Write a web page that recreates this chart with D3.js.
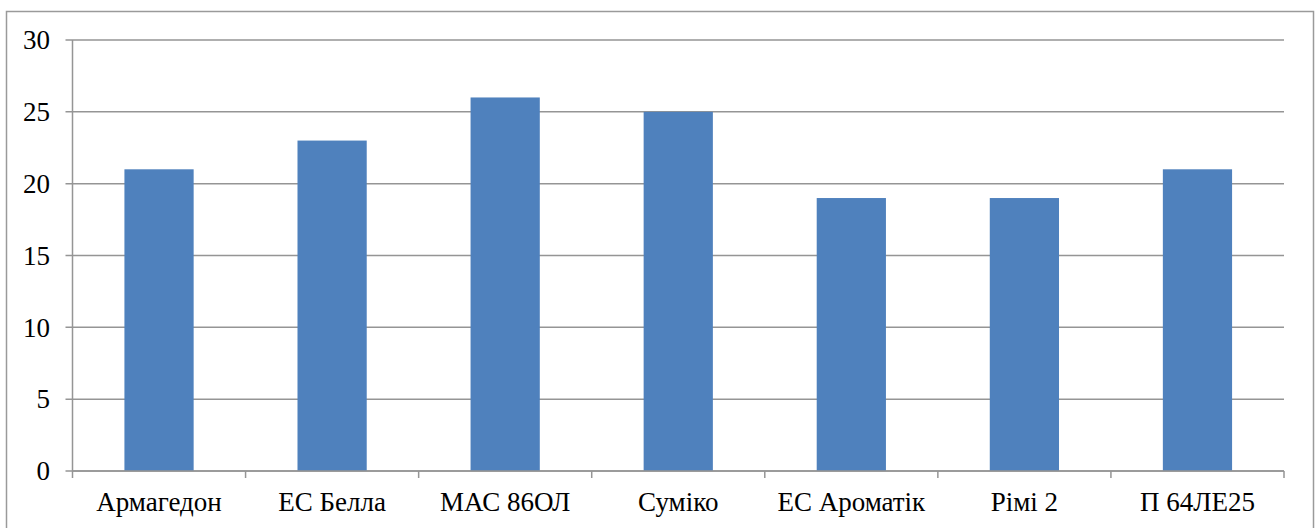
<!DOCTYPE html>
<html>
<head>
<meta charset="utf-8">
<script src="https://cdn.jsdelivr.net/npm/d3@7"></script>
<style>
  html, body { margin: 0; padding: 0; background: #fff; }
  svg { display: block; }
</style>
</head>
<body>
<svg id="chart" width="1316" height="528"></svg>
<script>
const categories = ["Армагедон", "ЕС Белла", "МАС 86ОЛ", "Суміко", "ЕС Ароматік", "Рімі 2", "П 64ЛЕ25"];
const values = [21, 23, 26, 25, 19, 19, 21];
const yTicks = [0, 5, 10, 15, 20, 25, 30];

const svg = d3.select("#chart");
const W = 1316, H = 528;
const margin = { left: 72.5, right: W - 1284, top: 40, bottom: H - 471 };
const fontFamily = "Liberation Serif, Times New Roman, serif";
const fontSize = 27;
const gridColor = "#959595";

// outer border
svg.append("rect")
  .attr("x", 6.5).attr("y", 11.5)
  .attr("width", 1307).attr("height", 540)
  .attr("fill", "none")
  .attr("stroke", "#9a9a9a")
  .attr("stroke-width", 1.5);

const x = d3.scaleBand()
  .domain(categories)
  .range([margin.left, W - margin.right])
  .paddingInner(0.6)
  .paddingOuter(0.3);

const xOuter = d3.scaleBand()
  .domain(categories)
  .range([margin.left, W - margin.right]);

const y = d3.scaleLinear()
  .domain([0, 30])
  .range([H - margin.bottom, margin.top]);

// gridlines
svg.append("g")
  .selectAll("line")
  .data(yTicks)
  .join("line")
  .attr("x1", margin.left - 7)
  .attr("x2", W - margin.right)
  .attr("y1", d => y(d))
  .attr("y2", d => y(d))
  .attr("stroke", gridColor)
  .attr("stroke-width", 1.5);

// y axis line
svg.append("line")
  .attr("x1", margin.left).attr("x2", margin.left)
  .attr("y1", y(30)).attr("y2", y(0))
  .attr("stroke", gridColor).attr("stroke-width", 1.5);

// y labels
svg.append("g")
  .selectAll("text")
  .data(yTicks)
  .join("text")
  .attr("x", 50)
  .attr("y", d => y(d))
  .attr("dy", "0.34em")
  .attr("text-anchor", "end")
  .attr("font-family", fontFamily)
  .attr("font-size", fontSize)
  .attr("fill", "#000")
  .text(d => d);

// bars
svg.append("g")
  .selectAll("rect")
  .data(categories)
  .join("rect")
  .attr("x", d => x(d))
  .attr("width", x.bandwidth())
  .attr("y", (d, i) => y(values[i]))
  .attr("height", (d, i) => y(0) - y(values[i]))
  .attr("fill", "#4F81BD");

// x axis
const xAxisY = y(0);
svg.append("line")
  .attr("x1", margin.left).attr("x2", W - margin.right)
  .attr("y1", xAxisY).attr("y2", xAxisY)
  .attr("stroke", gridColor).attr("stroke-width", 1.5);

const tickXs = categories.map(c => xOuter(c)).concat([W - margin.right]);
svg.append("g")
  .selectAll("line")
  .data(tickXs)
  .join("line")
  .attr("x1", d => d).attr("x2", d => d)
  .attr("y1", xAxisY).attr("y2", xAxisY + 7)
  .attr("stroke", gridColor).attr("stroke-width", 1.5);

svg.append("g")
  .selectAll("text")
  .data(categories)
  .join("text")
  .attr("x", d => xOuter(d) + xOuter.bandwidth() / 2)
  .attr("y", 511)
  .attr("text-anchor", "middle")
  .attr("font-family", fontFamily)
  .attr("font-size", fontSize)
  .attr("fill", "#000")
  .text(d => d);
</script>
</body>
</html>
